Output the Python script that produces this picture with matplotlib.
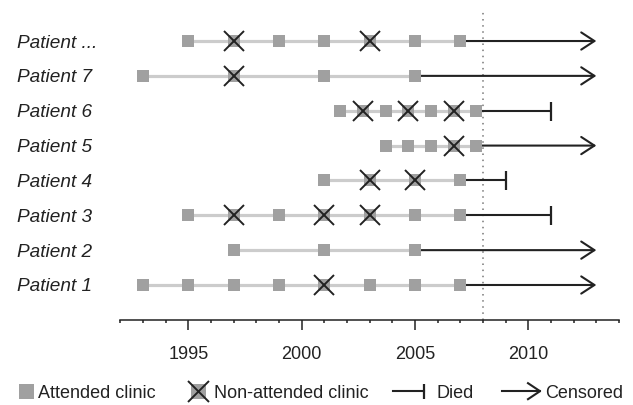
import matplotlib
matplotlib.use('Agg')
import matplotlib.pyplot as plt
from matplotlib.lines import Line2D
from matplotlib.legend_handler import HandlerBase
from matplotlib.ticker import MultipleLocator

plt.rcParams['font.family'] = ['Liberation Sans', 'DejaVu Sans']

# ---------------- data ----------------
patients = ['Patient 1', 'Patient 2', 'Patient 3', 'Patient 4',
            'Patient 5', 'Patient 6', 'Patient 7', 'Patient ...']
attended = [
    [1993, 1995, 1997, 1999, 2003, 2005, 2007],
    [1997, 2001, 2005],
    [1995, 1999, 2005, 2007],
    [2001, 2007],
    [2003.7, 2004.7, 2005.7, 2007.7],
    [2001.7, 2003.7, 2005.7, 2007.7],
    [1993, 2001, 2005],
    [1995, 1999, 2001, 2005, 2007],
]
missed = [
    [2001],
    [],
    [1997, 2001, 2003],
    [2003, 2005],
    [2006.7],
    [2002.7, 2004.7, 2006.7],
    [1997],
    [1997, 2003],
]
end_year = [2013, 2013, 2011, 2009, 2013, 2011, 2013, 2013]
outcome = ['Censored', 'Censored', 'Died', 'Died',
           'Censored', 'Died', 'Censored', 'Censored']
cutoff_year = 2008
x_min, x_max = 1992, 2014
major_ticks = [1995, 2000, 2005, 2010]
legend_labels = ['Attended clinic', 'Non-attended clinic', 'Died', 'Censored']

# ---------------- style ----------------
PX = 0.72  # points per pixel at 100 dpi
SQ_COLOR = '#a0a0a0'
LINE_GRAY = '#cccccc'
DARK = '#222222'
SQ_MS = 12 * PX
X_MS = 20.5 * PX
X_MEW = 1.4
BAR_MS = 19 * PX
FS = 13
FS_LAB = 13.7

fig = plt.figure(figsize=(6.33, 4.05), dpi=100)
ax = fig.add_axes([120.3 / 633, 1 - 319.5 / 405, (619 - 120.3) / 633, (319.5 - 10) / 405])

rows = list(range(len(patients)))
for r, att, mis, end, out in zip(rows, attended, missed, end_year, outcome):
    visits = sorted(att + mis)
    first, last = visits[0], visits[-1]
    ax.plot([first, last], [r, r], color=LINE_GRAY, lw=2.3, zorder=1, solid_capstyle='butt')
    if out == 'Died':
        ax.plot([last, end], [r, r], color=DARK, lw=1.5, zorder=1, solid_capstyle='butt')
        ax.plot([end], [r], marker='|', ms=BAR_MS, mew=1.6, color=DARK, ls='none', zorder=2)
    else:
        ax.annotate('', xy=(end, r), xytext=(last, r),
                    arrowprops=dict(arrowstyle='->, head_length=0.95, head_width=0.62',
                                    mutation_scale=10, lw=1.5, color=DARK,
                                    shrinkA=0, shrinkB=0), zorder=1)
    ax.plot(visits, [r] * len(visits), marker='s', ms=SQ_MS, mew=0, color=SQ_COLOR,
            ls='none', zorder=3)
    if mis:
        ax.plot(mis, [r] * len(mis), marker='x', ms=X_MS, mew=X_MEW, color=DARK,
                ls='none', zorder=4)

ax.axvline(cutoff_year, color='#777777', lw=1.1, ls=(0, (1, 3)), zorder=0.5)

ax.set_xlim(x_min, x_max)
ax.set_ylim(-0.99, 7.89)
ax.set_xticks(major_ticks)
ax.xaxis.set_minor_locator(MultipleLocator(1))
ax.tick_params(axis='x', which='major', length=7.2, width=1.1, color=DARK,
               labelsize=FS, labelcolor=DARK, pad=12)
ax.tick_params(axis='x', which='minor', length=2.4, width=1.1, color=DARK)
ax.set_yticks(rows)
ax.set_yticklabels(patients, ha='left', fontstyle='italic', fontsize=FS_LAB, color=DARK)
ax.tick_params(axis='y', length=0, pad=(120.3 - 17) * PX)
for s in ['top', 'right', 'left']:
    ax.spines[s].set_visible(False)
ax.spines['bottom'].set_linewidth(1.1)
ax.spines['bottom'].set_color(DARK)


# ---------------- legend ----------------
LEG_SQ = 15 * PX


class SquareHandler(HandlerBase):
    def __init__(self, with_x=False):
        super().__init__()
        self.with_x = with_x

    def create_artists(self, legend, orig, xd, yd, w, h, fs, trans):
        xc = -xd + w / 2
        yc = -yd + h / 2
        arts = [Line2D([xc], [yc], marker='s', ms=LEG_SQ, mew=0, color=SQ_COLOR,
                       ls='none', transform=trans)]
        if self.with_x:
            arts.append(Line2D([xc], [yc], marker='x', ms=w, mew=X_MEW, color=DARK,
                               ls='none', transform=trans))
        return arts


class DiedHandler(HandlerBase):
    def create_artists(self, legend, orig, xd, yd, w, h, fs, trans):
        x0, xr = -xd, -xd + w
        yc = -yd + h / 2
        return [Line2D([x0, xr], [yc, yc], color=DARK, lw=1.5, transform=trans),
                Line2D([xr], [yc], marker='|', ms=15 * PX, mew=1.6, color=DARK,
                       ls='none', transform=trans)]


class CensoredHandler(HandlerBase):
    def create_artists(self, legend, orig, xd, yd, w, h, fs, trans):
        x0, xr = -xd, -xd + w
        yc = -yd + h / 2
        return [Line2D([x0, xr], [yc, yc], color=DARK, lw=1.5, transform=trans),
                Line2D([xr - 12 * PX, xr, xr - 12 * PX],
                       [yc + 8 * PX, yc, yc - 8 * PX], color=DARK, lw=1.5,
                       transform=trans)]


# (left edge px, handle width px, gap to text px) for each legend entry
leg_layout = [(18, 15, 5), (188, 21, 5), (393, 31, 13), (502, 38, 5)]
handlers = [SquareHandler(False), SquareHandler(True), DiedHandler(), CensoredHandler()]
LEG_Y = 1 - 393 / 405
for lab, (lx, hw, gap), hnd in zip(legend_labels, leg_layout, handlers):
    h = Line2D([], [])
    fig.legend([h], [lab], handler_map={h: hnd}, loc='center left',
               bbox_to_anchor=(lx / 633, LEG_Y), frameon=False, fontsize=FS,
               handlelength=hw * PX / FS, handletextpad=gap * PX / FS,
               borderpad=0, borderaxespad=0, labelcolor=DARK)

fig.savefig('out.png', dpi=100)
